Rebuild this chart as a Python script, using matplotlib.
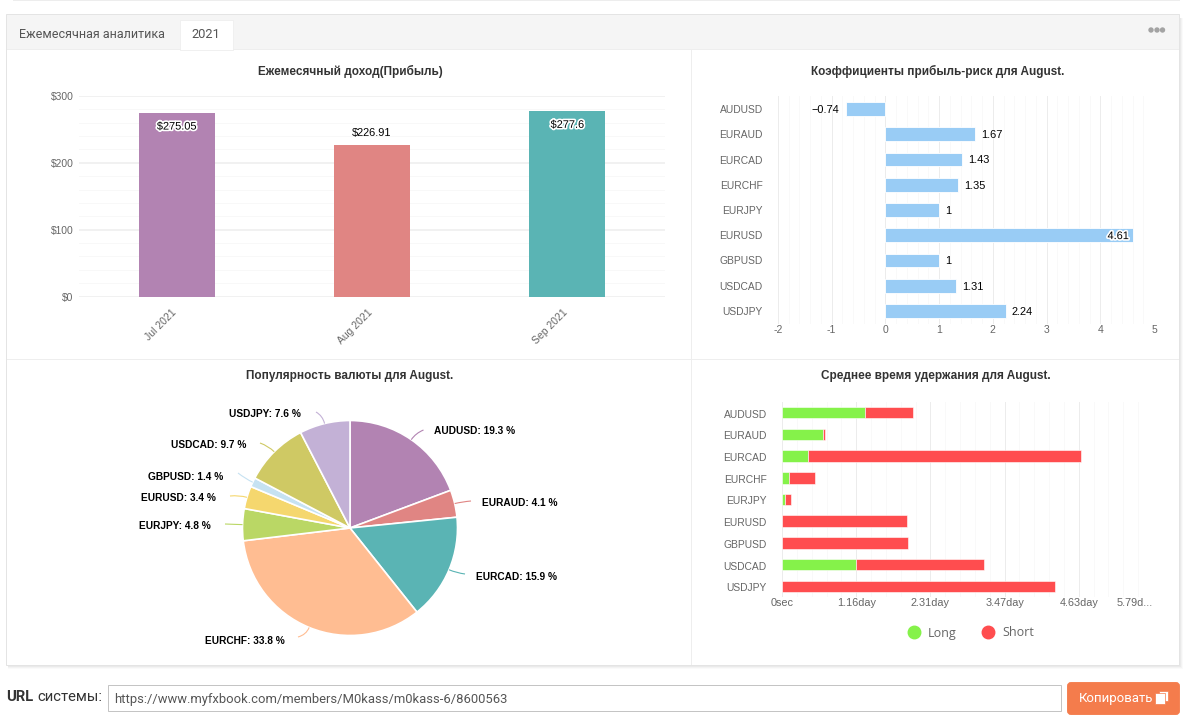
import numpy as np
import matplotlib
matplotlib.use("Agg")
import matplotlib.pyplot as plt
import matplotlib.patheffects as pe
from matplotlib.lines import Line2D
from matplotlib.patches import Rectangle, Circle, PathPatch, FancyBboxPatch
from matplotlib.path import Path
from matplotlib.ticker import MultipleLocator
from matplotlib.transforms import ScaledTranslation

# monthly profit
months = ["Jul 2021", "Aug 2021", "Sep 2021"]
profit = [275.05, 226.91, 277.6]
profit_labels = ["$275.05", "$226.91", "$277.6"]
profit_colors = ["#B283B2", "#E08583", "#5AB4B4"]

# reward / risk ratios
symbols = ["AUDUSD", "EURAUD", "EURCAD", "EURCHF", "EURJPY",
           "EURUSD", "GBPUSD", "USDCAD", "USDJPY"]
ratios = [-0.74, 1.67, 1.43, 1.35, 1, 4.61, 1, 1.31, 2.24]

# currency popularity, percent
popularity = [19.3, 4.1, 15.9, 33.8, 4.8, 3.4, 1.4, 9.7, 7.6]
pie_colors = ["#B283B2", "#E08583", "#5AB4B4", "#FFBD92", "#BAD765",
              "#F5D76E", "#C6E2F2", "#CFC964", "#C3B1D6"]

# average holding time, days
long_days = [1.298, 0.641, 0.41, 0.104, 0.04, 0, 0, 1.147, 0]
short_days = [0.74, 0.035, 4.25, 0.407, 0.095, 1.944, 1.96, 1.996, 4.25]
time_ticks = [0, 1.157, 2.314, 3.471, 4.628, 5.785]
time_labels = ["0sec", "1.16day", "2.31day", "3.47day", "4.63day", "5.79d..."]

W, H = 1189, 723
SANS = "Liberation Sans"
GREY = "#666666"
PX = 0.72  # one pixel in points

fig = plt.figure(figsize=(W / 100, H / 100), dpi=100, facecolor="white")


def px_axes(left, top, right, bottom):
    # axes from pixel box, y counted from the top
    return fig.add_axes([left / W, 1 - bottom / H, (right - left) / W, (bottom - top) / H],
                        facecolor="none")


def nudge(label, dx, dy):
    # move a tick label by some pixels
    label.set_transform(label.get_transform() + ScaledTranslation(dx / 100, -dy / 100, fig.dpi_scale_trans))


bg = fig.add_axes([0, 0, 1, 1], zorder=-1)
bg.set_xlim(0, W)
bg.set_ylim(H, 0)
bg.axis("off")

top = fig.add_axes([0, 0, 1, 1], zorder=5, facecolor="none")
top.set_xlim(0, W)
top.set_ylim(H, 0)
top.axis("off")

# panel frame and shadow
for i, a in enumerate([0.04, 0.06, 0.08, 0.10]):
    d = 4 - i
    bg.add_patch(Rectangle((8, 18), 1171 + d, 647 + d, fc="#888888", ec="none", alpha=a))
bg.add_patch(Rectangle((6, 14), 1173, 651, fc="white", ec="#e4e4e4", lw=PX))
bg.add_patch(Rectangle((6.5, 14.5), 1172, 34.5, fc="#f5f5f5", ec="none"))
bg.add_patch(Rectangle((180, 20), 53, 30, fc="white", ec="#f0f0f0", lw=PX))
bg.plot([7, 180], [49, 49], color="#eeeeee", lw=PX)
bg.plot([233, 1178], [49, 49], color="#eeeeee", lw=PX)
bg.plot([691, 691], [50, 664], color="#eeeeee", lw=PX)
bg.plot([7, 1178], [359, 359], color="#eeeeee", lw=PX)
bg.add_patch(Rectangle((13, 0), 1167, 1, fc="#dddddd", ec="none", alpha=0.5))

bg.text(19, 34, "Ежемесячная аналитика", family="Roboto", fontsize=9.0, color="#555555", va="center")
bg.text(206, 34, "2021", family="Roboto", fontsize=9.3, color="#555555", va="center", ha="center")
for x in [1151, 1157, 1162.5]:
    bg.add_patch(Circle((x, 30), 2.7, fc="#a3a3a3", ec="none"))

for x, y, t in [(350, 71, "Ежемесячный доход(Прибыль)"),
                (937.5, 71, "Коэффициенты прибыль-риск для August."),
                (350, 376, "Популярность валюты для August."),
                (936, 376, "Среднее время удержания для August.")]:
    bg.text(x, y, t, family=SANS, fontsize=8.45, fontweight="bold", color="#333333",
            ha="center", va="center")

# monthly income bars
ax1 = px_axes(79, 96, 665, 296.5)
ax1.bar(months, profit, width=0.389, color=profit_colors, zorder=3)
ax1.set_xlim(-0.5, 2.5)
ax1.set_ylim(0, 300)
ax1.yaxis.set_major_locator(MultipleLocator(100))
ax1.yaxis.set_minor_locator(MultipleLocator(20))
ax1.yaxis.set_major_formatter(lambda v, p: "$%d" % v)
ax1.grid(which="major", axis="y", color="#eeeeee", lw=1.1, zorder=0)
ax1.grid(which="minor", axis="y", color="#f8f8f8", lw=PX, zorder=0)
ax1.tick_params(which="both", length=0)
ax1.tick_params(axis="y", labelsize=7.4, labelcolor=GREY, pad=4)
ax1.tick_params(axis="x", labelsize=7.5, labelcolor=GREY, pad=8)
fig.canvas.draw()
for lb in ax1.get_xticklabels():
    lb.set(rotation=45, ha="right", rotation_mode="anchor", family=SANS)
    nudge(lb, -5, 0)
for lb in ax1.get_yticklabels():
    lb.set_family(SANS)
for s in ax1.spines.values():
    s.set_visible(False)
halo = [pe.withStroke(linewidth=2.4, foreground="white")]
for i, (v, t) in enumerate(zip(profit, profit_labels)):
    if v > 250:
        ax1.annotate(t, (i, v), xytext=(0, -10), textcoords="offset points", ha="center", va="center",
                     family=SANS, fontsize=7.9, color="black", path_effects=halo, zorder=4)
    else:
        ax1.annotate(t, (i, v), xytext=(0, 8.5), textcoords="offset points", ha="center", va="center",
                     family=SANS, fontsize=7.9, color="black", zorder=4)

# reward / risk bars
ax2 = px_axes(778, 96.4, 1154, 323.6)
ypos = np.arange(len(symbols))
ax2.barh(ypos, ratios, height=0.54, color="#99CCF5", edgecolor="white", lw=0.6, zorder=3)
ax2.set_xlim(-2, 5)
ax2.set_ylim(8.5, -0.5)
ax2.set_yticks(ypos, symbols)
ax2.xaxis.set_major_locator(MultipleLocator(1))
ax2.xaxis.set_minor_locator(MultipleLocator(0.2))
ax2.xaxis.set_major_formatter(lambda v, p: "%d" % v)
ax2.grid(which="major", axis="x", color="#ececec", lw=PX, zorder=0)
ax2.grid(which="minor", axis="x", color="#f9f9f9", lw=PX, zorder=0)
ax2.tick_params(which="both", length=0)
ax2.tick_params(axis="y", labelsize=7.4, labelcolor=GREY, pad=11)
ax2.tick_params(axis="x", labelsize=7.5, labelcolor=GREY, pad=1)
for lb in ax2.get_xticklabels() + ax2.get_yticklabels():
    lb.set_family(SANS)
nudge(ax2.get_xticklabels()[-1], -4, 0)
for s in ax2.spines.values():
    s.set_visible(False)
for y, v in zip(ypos, ratios):
    t = "%g" % v
    if v < 0:
        ax2.annotate("\u2212" + t[1:], (v, y), xytext=(-5, -0.6), textcoords="offset points", ha="right", va="center",
                     family=SANS, fontsize=7.9, color="black", zorder=4)
    elif v > 4:
        ax2.annotate(t, (v, y), xytext=(-3, -0.6), textcoords="offset points", ha="right", va="center",
                     family=SANS, fontsize=7.9, color="black", path_effects=halo, zorder=4)
    else:
        ax2.annotate(t, (v, y), xytext=(4.4, -0.6), textcoords="offset points", ha="left", va="center",
                     family=SANS, fontsize=7.9, color="black", zorder=4)

# popularity pie
CX, CY, R = 350, 528, 107.5
ax3 = px_axes(CX - R, CY - R, CX + R, CY + R)
ax3.pie(popularity, colors=pie_colors, startangle=90, counterclock=False, radius=1,
        wedgeprops=dict(edgecolor="white", linewidth=1.2))
ax3.set_xlim(-1, 1)
ax3.set_ylim(-1, 1)

# label text anchors and connector ends
label_pos = [(434, 431.3), (482, 502.7), (476, 576.7), (205, 640.7),
             (139, 525.7), (141, 498), (148, 476.7), (171, 445), (229, 414)]
conn_end = [(423.5, 430), (471, 501), (465, 574), (298, 637), (225, 524), (230, 496), (238, 473), (260, 443), (316, 412)]
cum = 0
for name, v, c, lp, e in zip(symbols, popularity, pie_colors, label_pos, conn_end):
    mid = np.radians((cum + v / 2) * 3.6)
    cum += v
    sx, sy = np.sin(mid), -np.cos(mid)
    p0 = (CX + R * sx, CY + R * sy)
    p1 = (CX + (R + 8) * sx, CY + (R + 8) * sy)
    top.add_patch(PathPatch(Path([p0, p1, e], [Path.MOVETO, Path.CURVE3, Path.CURVE3]),
                            fc="none", ec=c, lw=0.8))
    top.text(lp[0], lp[1], "%s: %.1f %%" % (name, v), family=SANS, fontsize=7.3, fontweight="bold",
             color="black", ha="left", va="center")

# holding time stacked bars
ax4 = px_axes(782, 401.8, 1153, 597.2)
ax4.barh(ypos, long_days, height=0.53, color="#85F24A", edgecolor="white", lw=0.4, label="Long", zorder=3)
ax4.barh(ypos, short_days, left=long_days, height=0.53, color="#FF4D4F", edgecolor="white", lw=0.4,
         label="Short", zorder=3)
ax4.set_xlim(0, 5.785)
ax4.set_ylim(8.5, -0.5)
ax4.set_yticks(ypos, symbols)
ax4.set_xticks(time_ticks, time_labels)
ax4.xaxis.set_minor_locator(MultipleLocator(1.157 / 5))
ax4.grid(which="major", axis="x", color="#ececec", lw=PX, zorder=0)
ax4.grid(which="minor", axis="x", color="#f9f9f9", lw=PX, zorder=0)
ax4.tick_params(which="both", length=0)
ax4.tick_params(axis="y", labelsize=7.4, labelcolor=GREY, pad=11)
ax4.tick_params(axis="x", labelsize=7.8, labelcolor=GREY, pad=0.5)
for lb in ax4.get_xticklabels() + ax4.get_yticklabels():
    lb.set_family(SANS)
for lb in ax4.get_yticklabels():
    nudge(lb, 0, 1)
ax4.get_xticklabels()[-1].set_ha("right")
for s in ax4.spines.values():
    s.set_visible(False)
handles = [Line2D([], [], ls="", marker="o", ms=9, color="#85F24A", label="Long"),
           Line2D([], [], ls="", marker="o", ms=9, color="#FF4D4F", label="Short")]
fig.legend(handles=handles, loc="center", bbox_to_anchor=(971 / W, 1 - 633 / H), ncol=2, frameon=False,
           prop=dict(family="Open Sans", size=9), labelcolor=GREY, columnspacing=2.0, handletextpad=0.65,
           handlelength=1.0)

# system URL row
bg.text(6, 697, "URL", family="Roboto", fontsize=10.6, fontweight="bold", color="#333333", va="center")
bg.text(37, 697, "системы:", family="Roboto", fontsize=10.6, color="#333333", va="center")
bg.add_patch(Rectangle((108, 685), 953, 26, fc="white", ec="#c4c4c4", lw=PX))
bg.text(114, 699, "https://www.myfxbook.com/members/M0kass/m0kass-6/8600563", family="Roboto",
        fontsize=9.4, color="#555555", va="center")
bg.add_patch(FancyBboxPatch((1069, 684), 109, 29, boxstyle="round,pad=0,rounding_size=2",
                            mutation_aspect=1, fc="#F47C4C", ec="#F47C4C", lw=2.8))
bg.text(1079, 698.5, "Копировать", family="Roboto", fontsize=9.5, color="white", va="center")
bg.add_patch(Rectangle((1159, 691), 9, 10, fc="white", ec="#F47C4C", lw=0.5))
bg.add_patch(Rectangle((1155, 693), 10, 11, fc="white", ec="#F47C4C", lw=0.5))

fig.savefig("out.png", dpi=100)
